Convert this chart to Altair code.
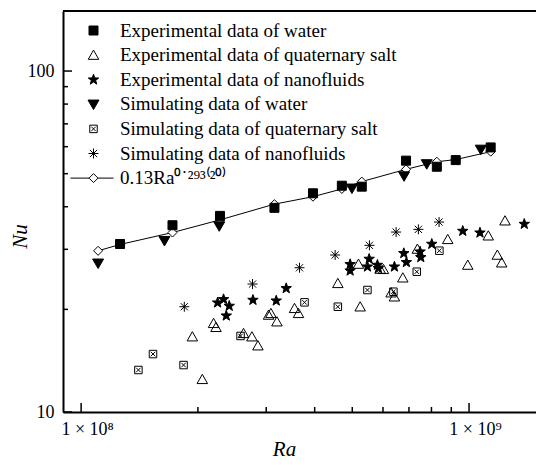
import math
import altair as alt
import pandas as pd

FONT = "Liberation Serif"

# Rayleigh numbers are given in units of 1e8
ra_exp_water = [1.26, 1.72, 2.28, 3.15, 3.96, 4.70, 5.29, 6.88, 8.26, 9.24, 11.37]
nu_exp_water = [31.1, 35.3, 37.6, 39.7, 43.8, 46.1, 45.8, 54.6, 52.4, 54.8, 59.7]

ra_exp_salt = [1.935, 2.053, 2.195, 2.227, 2.622, 2.756, 2.856, 3.042, 3.085, 3.197,
               3.549, 3.634, 4.590, 5.240, 5.187, 5.899, 6.016, 6.297, 6.421, 6.749,
               7.360, 8.812, 11.21, 9.924, 12.38, 11.83, 12.14]
nu_exp_salt = [16.63, 12.47, 18.20, 17.72, 17.01, 16.63, 15.65, 19.25, 19.47, 18.40,
               20.14, 19.47, 23.84, 20.36, 27.16, 26.26, 26.21, 22.38, 21.78, 24.76,
               30.06, 32.09, 32.88, 26.98, 36.39, 28.87, 27.40]

ra_exp_nano = [2.248, 2.329, 2.409, 2.367, 2.773, 3.184, 3.378, 4.937, 4.937, 5.527,
               5.471, 5.805, 5.840, 6.421, 6.789, 6.895, 7.478, 7.509, 8.016, 9.634,
               10.67, 13.88]
nu_exp_nano = [20.92, 21.40, 20.46, 19.16, 21.30, 21.20, 23.05, 27.11, 25.96, 28.10,
               26.67, 26.98, 26.38, 26.67, 29.20, 27.48, 29.52, 28.42, 31.09, 33.94,
               33.55, 35.58]

ra_sim_water = [1.106, 1.64, 2.27, 4.99, 6.80, 7.78, 10.72]
nu_sim_water = [27.3, 31.8, 35.1, 45.3, 49.2, 53.4, 58.9]

ra_sim_salt = [1.405, 1.532, 1.837, 2.576, 3.766, 4.590, 5.471, 6.383, 7.333, 8.385]
nu_sim_salt = [13.28, 14.79, 13.73, 16.71, 20.97, 20.36, 22.79, 22.53, 25.79, 29.72]

ra_sim_nano = [1.845, 2.766, 3.656, 4.517, 5.536, 6.486, 7.403, 8.370]
nu_sim_nano = [20.36, 23.73, 26.49, 28.87, 30.82, 33.71, 34.33, 36.07]

ra_corr = [1.106, 1.26, 1.72, 2.28, 3.15, 3.96, 4.70, 5.29, 6.88, 8.26, 9.24, 11.37]
nu_corr = [29.7, 31.0, 33.6, 36.6, 40.7, 42.8, 45.1, 47.4, 51.5, 54.2, 55.0, 58.0]

series_names = [
    "Experimental data of water",
    "Experimental data of quaternary salt",
    "Experimental data of nanofluids",
    "Simulating data of water",
    "Simulating data of quaternary salt",
    "Simulating data of nanofluids",
    "0.13Ra\u2070\u02d9\u00b2\u2079\u00b3\u207d\u00b2\u2070\u207e",
]

x_ticks_major = [1e8, 1e9]
x_ticks_minor = [2e8, 3e8, 4e8, 5e8, 6e8, 7e8, 8e8, 9e8]
y_ticks_major = [10, 100]
y_ticks_minor = [20, 30, 40, 50, 60, 70, 80, 90]

X_DOMAIN = [8.98e7, 1.488e9]
Y_DOMAIN = [10, 150]
W, H = 473, 401


def p(v):
    return f"{v:.3f}"


def poly(pts):
    return "M" + " L".join(f"{p(a)},{p(b)}" for a, b in pts) + " Z"


# marker outlines in the unit symbol box
star_pts = []
for k in range(10):
    r = 1.1 if k % 2 == 0 else 0.45
    ang = math.radians(-90 + 36 * k)
    star_pts.append((r * math.cos(ang), r * math.sin(ang)))

sq_path = poly([(-0.9, -0.9), (0.9, -0.9), (0.9, 0.9), (-0.9, 0.9)])
tri_up_path = poly([(0, -1.0), (1.05, 0.85), (-1.05, 0.85)])
tri_dn_path = poly([(-1.1, -0.85), (1.1, -0.85), (0, 1.05)])
star_path = poly(star_pts)
boxx_path = (poly([(-0.75, -0.75), (0.75, -0.75), (0.75, 0.75), (-0.75, 0.75)])
             + " M-0.45,-0.45 L0.45,0.45 M0.45,-0.45 L-0.45,0.45")
aster_path = ("M-1,0 L1,0 M0,-1 L0,1 M-0.72,-0.72 L0.72,0.72 M-0.72,0.72 L0.72,-0.72")
line_dia_path = ("M-4.6,0 L-0.9,0 M0.9,0 L4.0,0 "
                 + poly([(-0.9, 0), (0, -0.9), (0.9, 0), (0, 0.9)]))

shape_range = [sq_path, tri_up_path, star_path, tri_dn_path, boxx_path, aster_path, line_dia_path]
fill_range = ["black", "transparent", "black", "black", "white", "transparent", "white"]
stroke_range = ["black"] * len(series_names)

rows = []
for name, ras, nus in [
    (series_names[0], ra_exp_water, nu_exp_water),
    (series_names[3], ra_sim_water, nu_sim_water),
    (series_names[4], ra_sim_salt, nu_sim_salt),
    (series_names[1], ra_exp_salt, nu_exp_salt),
    (series_names[2], ra_exp_nano, nu_exp_nano),
    (series_names[5], ra_sim_nano, nu_sim_nano),
]:
    for a, b in zip(ras, nus):
        rows.append({"Ra": a * 1e8, "Nu": b, "series": name})
pts = pd.DataFrame(rows)
corr = pd.DataFrame({"Ra": [a * 1e8 for a in ra_corr], "Nu": nu_corr})

x_scale = alt.Scale(type="log", domain=X_DOMAIN, nice=False)
y_scale = alt.Scale(type="log", domain=Y_DOMAIN, nice=False)

x_axis = alt.Axis(
    values=x_ticks_major, ticks=False, tickSize=0, grid=False,
    domainColor="black", domainWidth=2,
    labelExpr="datum.value < 5e8 ? '1 \u00d7 10\u2078' : '1 \u00d7 10\u2079'",
    labelFont=FONT, labelFontSize=18, labelColor="black", labelPadding=8,
    labelOffset=6, labelFlush=False, labelOverlap=False,
    title="Ra", titleFont=FONT, titleFontSize=21, titleFontStyle="italic",
    titleFontWeight="normal", titleColor="black", titleX=221, titleY=43,
    titleBaseline="alphabetic",
)
y_axis = alt.Axis(
    values=y_ticks_major, ticks=False, tickSize=0, grid=False,
    domainColor="black", domainWidth=2,
    labelExpr="datum.value < 50 ? '10' : '100'",
    labelFont=FONT, labelFontSize=18, labelColor="black", labelPadding=9,
    labelFlush=False, labelOverlap=False,
    title="Nu", titleFont=FONT, titleFontSize=21, titleFontStyle="italic",
    titleFontWeight="normal", titleColor="black", titleAngle=270,
    titleX=-43, titleY=225, titleAlign="center", titleBaseline="middle",
)

X = alt.X("Ra:Q", scale=x_scale, axis=x_axis)
Y = alt.Y("Nu:Q", scale=y_scale, axis=y_axis)

legend = alt.Legend(
    title=None, orient="none", legendX=21, legendY=10, padding=0,
    symbolSize=100, symbolStrokeColor="black", symbolStrokeWidth=1, symbolOpacity=1,
    labelFont=FONT, labelFontSize=19, labelColor="black", labelOffset=17,
    labelLimit=400, rowPadding=4.6,
)

corr_line = alt.Chart(corr).mark_line(color="black", strokeWidth=1).encode(
    x=X, y=Y, order="Ra:Q"
)
corr_pts = alt.Chart(corr).mark_point(
    shape="diamond", filled=True, fill="white", stroke="black", strokeWidth=1,
    size=81, opacity=1
).encode(x=X, y=Y)

data_pts = alt.Chart(pts).mark_point(
    filled=True, strokeWidth=1, size=100, opacity=1
).encode(
    x=X, y=Y,
    shape=alt.Shape("series:N", scale=alt.Scale(domain=series_names, range=shape_range),
                    legend=legend),
    fill=alt.Fill("series:N", scale=alt.Scale(domain=series_names, range=fill_range),
                  legend=legend),
    stroke=alt.Stroke("series:N", scale=alt.Scale(domain=series_names, range=stroke_range),
                      legend=legend),
)

# inward-pointing tick marks
ytm = pd.DataFrame({"Nu": y_ticks_major})
ytn = pd.DataFrame({"Nu": y_ticks_minor})
xtm = pd.DataFrame({"Ra": x_ticks_major})
xtn = pd.DataFrame({"Ra": x_ticks_minor})

y_major = alt.Chart(ytm).mark_rule(color="black", strokeWidth=1.5).encode(
    y=Y, x=alt.value(0), x2=alt.value(9))
y_minor = alt.Chart(ytn).mark_rule(color="black", strokeWidth=1.5).encode(
    y=Y, x=alt.value(0), x2=alt.value(5))
x_major = alt.Chart(xtm).mark_rule(color="black", strokeWidth=1.5).encode(
    x=X, y=alt.value(H), y2=alt.value(H - 9))
x_minor = alt.Chart(xtn).mark_rule(color="black", strokeWidth=1.5).encode(
    x=X, y=alt.value(H), y2=alt.value(H - 5))

top_frame = alt.Chart(pd.DataFrame({"a": [0]})).mark_rule(
    color="black", strokeWidth=2
).encode(
    x=alt.datum(X_DOMAIN[0], scale=x_scale), x2=alt.datum(X_DOMAIN[1]),
    y=alt.datum(Y_DOMAIN[1], scale=y_scale),
)

chart = alt.layer(
    corr_line, corr_pts, data_pts, y_major, y_minor, x_major, x_minor, top_frame
).properties(
    width=W, height=H,
    padding={"left": 63, "top": 11, "right": 0, "bottom": 53},
    autosize=alt.AutoSizeParams(type="none"),
    background="white",
).configure_view(stroke=None)

chart.save("out.html", embed_options={"renderer": "svg", "actions": False})
